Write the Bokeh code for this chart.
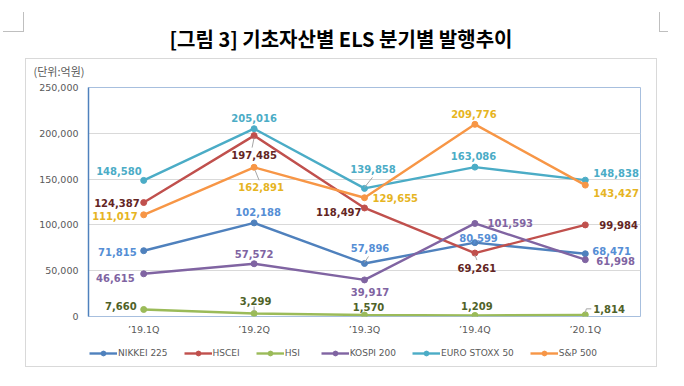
from bokeh.plotting import figure
from bokeh.models import (ColumnDataSource, FactorRange, Range1d, NumeralTickFormatter,
                          FixedTicker, Legend, LegendItem, Title)
from bokeh.layouts import column
from bokeh.core.properties import value
from bokeh.embed import file_html
from bokeh.resources import INLINE

# ---------------- data ----------------
quarters = ["\u201919.1Q", "\u201919.2Q", "\u201919.3Q", "\u201919.4Q", "\u201920.1Q"]
series_names = ["NIKKEI 225", "HSCEI", "HSI", "KOSPI 200", "EURO STOXX 50", "S&P 500"]
nikkei = [71815, 102188, 57896, 80599, 68471]
hscei = [124387, 197485, 118497, 69261, 99984]
hsi = [7660, 3299, 1570, 1209, 1814]
kospi = [46615, 57572, 39917, 101593, 61998]
euro = [148580, 205016, 139858, 163086, 148838]
snp = [111017, 162891, 129655, 209776, 143427]
y_ticks = [0, 50000, 100000, 150000, 200000, 250000]
title_text = "[그림 3] 기초자산별 ELS 분기별 발행추이"
unit_text = "(단위:억원)"

# ---------------- styles ----------------
line_colors = ["#4F81BD", "#C0504D", "#9BBB59", "#8064A2", "#4BACC6", "#F79646"]
label_colors = ["#558ED5", "#632523", "#4F6228", "#8064A2", "#4BACC6", "#E6B422"]
# label offsets per series per point: (dx px, dy px downward, align)
label_pos = [
    [(-7, 1, "right"), (4, -11, "center"), (5.5, -15, "center"), (3.6, -5, "center"), (7, -3, "left")],
    [(-4, 0, "right"), (0, 19, "center"), (-3, 4.5, "right"), (2, 15, "center"), (14, 0, "left")],
    [(-7, -3, "right"), (1.5, -12, "center"), (4, -8, "center"), (2, -9, "center"), (8, -6, "left")],
    [(-9, 4, "right"), (0, -10, "center"), (5.5, 12, "center"), (12.6, 0, "left"), (11, 1.5, "left")],
    [(-2, -9, "right"), (0, -10.5, "center"), (8.5, -19, "center"), (-1.4, -11, "center"), (8, -7, "left")],
    [(-6, 1, "right"), (7, 20, "center"), (8, 0, "left"), (-1, -10.5, "center"), (8, 8, "left")],
]
# leader lines: (series idx, point idx, dx0, dy0, dx1, dy1) in px (dy downward)
leaders = [
    (1, 1, 0, 2, -2, 12),
    (5, 1, 1, 3, 5, 13),
    (2, 1, 0, -2, 0, -7),
    (4, 2, 0, -1, 8, -11),
    (0, 2, 0, -1, 4, -7),
    (1, 3, 0, 2, 2, 7),
    (2, 4, 0, -2, 1, -6),
    (2, 4, 1, -6, 6, -6),
]


def css_lines(lines):
    return {
        "background-color": "white",
        "background-image": ", ".join(f"linear-gradient({c}, {c})" for *_, c in lines),
        "background-position": ", ".join(f"{x}px {y}px" for x, y, *_ in lines),
        "background-size": ", ".join(f"{w}px {h}px" for _, _, w, h, _ in lines),
        "background-repeat": "no-repeat",
    }


W, H = 668, 338
BL, BR, BT, BB = 88, 28, 87, 22
FW, FH = W - BL - BR, H - BT - BB
YMAX = 250000

all_series = [nikkei, hscei, hsi, kospi, euro, snp]

p = figure(width=W, height=H, x_range=FactorRange(*quarters, range_padding=0),
           y_range=Range1d(0, YMAX), output_backend="svg", toolbar_location=None,
           min_border_left=BL, min_border_right=BR, min_border_top=BT, min_border_bottom=BB)
p.background_fill_color = "white"
p.border_fill_alpha = 0
p.outline_line_color = "#A7BFDE"
p.outline_line_width = 1
p.styles = css_lines([
    (25, 58, 632, 1, "#D9D9D9"), (25, 58, 1, 280, "#D9D9D9"), (656, 58, 1, 280, "#D9D9D9"),
    (23, 12, 1, 20, "#BFBFBF"), (3, 31, 21, 1, "#BFBFBF"),
    (659, 12, 1, 20, "#BFBFBF"), (659, 31, 9, 1, "#BFBFBF"),
])

p.xgrid.grid_line_color = None
p.ygrid.grid_line_color = "#D9D9D9"
p.ygrid.ticker = FixedTicker(ticks=y_ticks)

p.yaxis.ticker = FixedTicker(ticks=y_ticks)
p.yaxis.formatter = NumeralTickFormatter(format="0,0")
p.yaxis.axis_line_color = "#4F81BD"
p.yaxis.axis_line_width = 1.5
p.yaxis.major_label_standoff = 10
p.xaxis.axis_line_color = None
p.xaxis.major_label_standoff = 7
for ax in (p.xaxis, p.yaxis):
    ax.major_tick_line_color = None
    ax.minor_tick_line_color = None
    ax.major_tick_out = 0
    ax.major_tick_in = 0
    ax.minor_tick_out = 0
    ax.major_label_text_font = "DejaVu Sans"
    ax.major_label_text_font_size = "9.5px"
    ax.major_label_text_color = "#595959"

# titles: first added sits closest to the plot frame
p.add_layout(Title(text=unit_text, align="left", offset=-55, standoff=17,
                   text_font="Noto Sans CJK KR", text_font_style="normal",
                   text_font_size="11px", text_color="#595959"), "above")
p.add_layout(Title(text=title_text, align="left", offset=81, standoff=0,
                   text_font="Noto Sans CJK KR", text_font_style="bold",
                   text_font_size="20px", text_color="#000000"), "above")

for name, vals, lc in zip(series_names, all_series, line_colors):
    src = ColumnDataSource(dict(x=quarters, y=vals))
    p.line("x", "y", source=src, line_color=lc, line_width=2.4)
    p.scatter("x", "y", source=src, size=6, fill_color=lc, line_color=lc)

# leader lines
band = FW / len(quarters)
per_px = YMAX / FH
lx0, ly0, lx1, ly1 = [], [], [], []
for si, pi, dx0, dy0, dx1, dy1 in leaders:
    v = all_series[si][pi]
    lx0.append(pi + 0.5 + dx0 / band)
    lx1.append(pi + 0.5 + dx1 / band)
    ly0.append(v - dy0 * per_px)
    ly1.append(v - dy1 * per_px)
p.segment(x0=lx0, y0=ly0, x1=lx1, y1=ly1, line_color="#A6A6A6", line_width=1)

# data labels
for vals, lcol, pos in zip(all_series, label_colors, label_pos):
    src = ColumnDataSource(dict(
        x=quarters, y=vals, t=[f"{v:,}" for v in vals],
        dx=[q[0] for q in pos], dy=[q[1] for q in pos], al=[q[2] for q in pos]))
    p.text("x", "y", text="t", source=src, x_offset="dx", y_offset="dy", text_align="al",
           text_baseline="middle", text_color=lcol, text_font=value("DejaVu Sans"),
           text_font_style="bold", text_font_size="10px")

# ---------------- legend strip ----------------
LH = 32
lf = figure(width=W, height=LH, x_range=Range1d(0, W), y_range=Range1d(0, LH),
            output_backend="svg", toolbar_location=None, min_border=0,
            x_axis_type=None, y_axis_type=None)
lf.outline_line_color = None
lf.grid.grid_line_color = None
lf.background_fill_alpha = 0
lf.border_fill_alpha = 0
lf.styles = css_lines([
    (25, 0, 1, 29, "#D9D9D9"), (656, 0, 1, 29, "#D9D9D9"), (25, 28, 632, 1, "#D9D9D9"),
])
items = []
for name, lc in zip(series_names, line_colors):
    # hidden proxy glyphs (outside the visible range) that only feed the legend
    r1 = lf.line(x=[-50, -40], y=[-50, -50], line_color=lc, line_width=2.4)
    r2 = lf.scatter(x=[-45], y=[-50], size=6, fill_color=lc, line_color=lc)
    items.append(LegendItem(label=name, renderers=[r1, r2]))
legend = Legend(items=items, orientation="horizontal", location=(1, 11),
                glyph_width=28, glyph_height=12, label_height=12, label_standoff=1, spacing=16,
                padding=0, margin=0, border_line_color=None, background_fill_alpha=0,
                label_text_font="DejaVu Sans", label_text_font_size="9px",
                label_text_color="#595959")
lf.add_layout(legend)

layout = column(p, lf, spacing=0)
open("out.html", "w").write(file_html(layout, INLINE))
